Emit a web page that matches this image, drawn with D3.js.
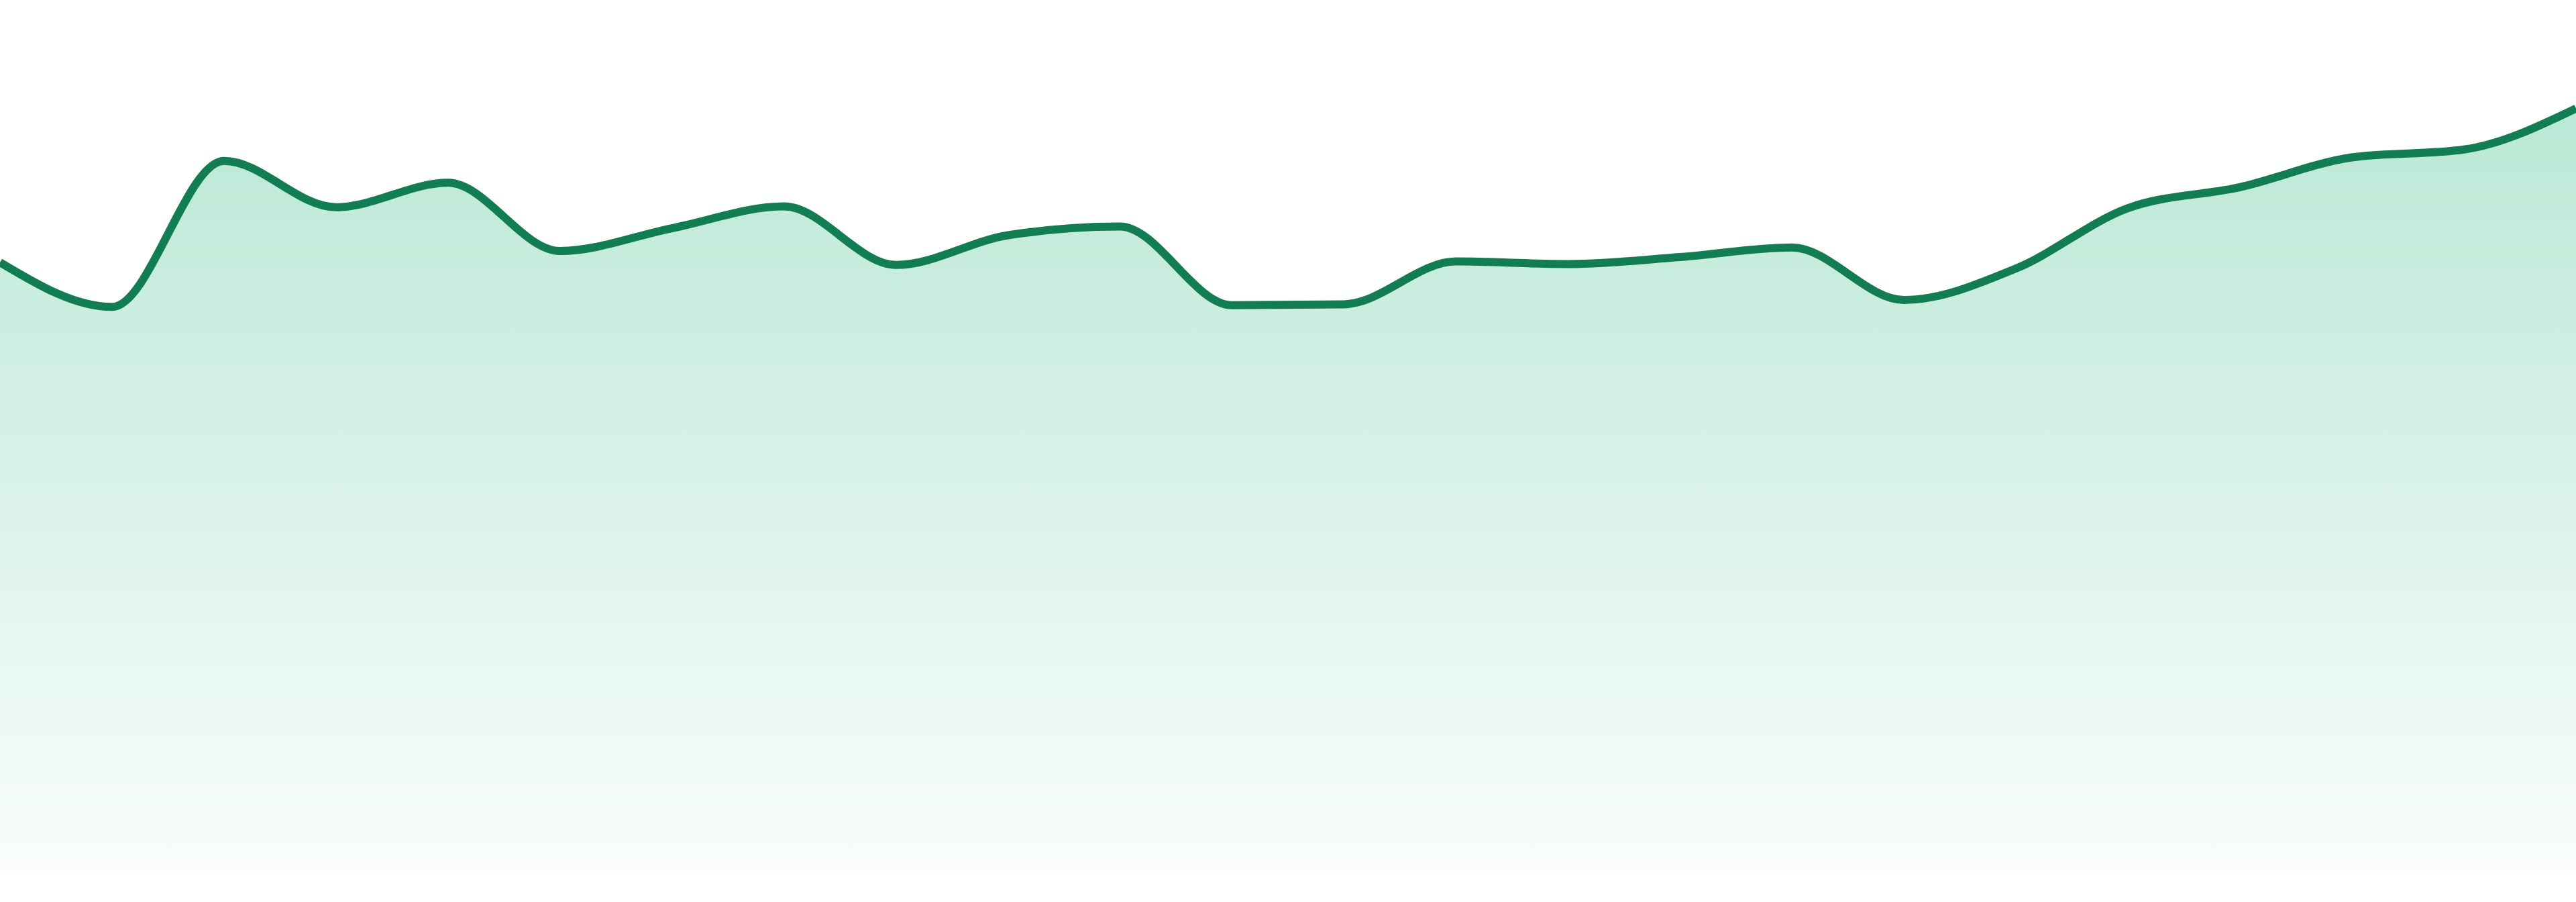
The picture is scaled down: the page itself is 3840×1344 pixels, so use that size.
<!DOCTYPE html>
<html>
<head>
<meta charset="utf-8">
<script src="https://cdn.jsdelivr.net/npm/d3@7"></script>
<style>
  html, body { margin: 0; padding: 0; background: #fff; }
  svg { display: block; }
</style>
</head>
<body>
<script>
// one value per period
const periods = d3.range(24);
const values = [
    70.0, 64.9, 81.6, 76.3, 79.1, 71.3, 73.9, 76.4,
    69.7, 73.1, 74.1, 65.1, 65.2, 70.1, 69.8, 70.6,
    71.7, 65.7, 69.3, 76.2, 78.6, 82.0, 82.9, 87.6
];
const yDomain = [0, 100];

const width = 3840;
const height = 1344;
const bottom = 1303;

const svg = d3.select("body").append("svg")
    .attr("width", width)
    .attr("height", height);

const x = d3.scaleLinear()
    .domain(d3.extent(periods))
    .range([0, width]);
const y = d3.scaleLinear()
    .domain(yDomain)
    .range([bottom, 0]);

const data = periods.map((p, i) => ({ p, v: values[i] }));

// soft green fade from the line down to the baseline
const grad = svg.append("defs").append("linearGradient")
    .attr("id", "fillGrad")
    .attr("x1", 0).attr("y1", 0)
    .attr("x2", 0).attr("y2", 1);
grad.append("stop").attr("offset", "0%").attr("stop-color", "#bae8d5");
grad.append("stop").attr("offset", "100%").attr("stop-color", "#fafdfc");

const area = d3.area()
    .x(d => x(d.p))
    .y0(bottom)
    .y1(d => y(d.v))
    .curve(d3.curveMonotoneX);

const line = d3.line()
    .x(d => x(d.p))
    .y(d => y(d.v))
    .curve(d3.curveMonotoneX);

svg.append("path")
    .datum(data)
    .attr("fill", "url(#fillGrad)")
    .attr("d", area);

svg.append("path")
    .datum(data)
    .attr("fill", "none")
    .attr("stroke", "#127c52")
    .attr("stroke-width", 12)
    .attr("stroke-linejoin", "round")
    .attr("d", line);
</script>
</body>
</html>
